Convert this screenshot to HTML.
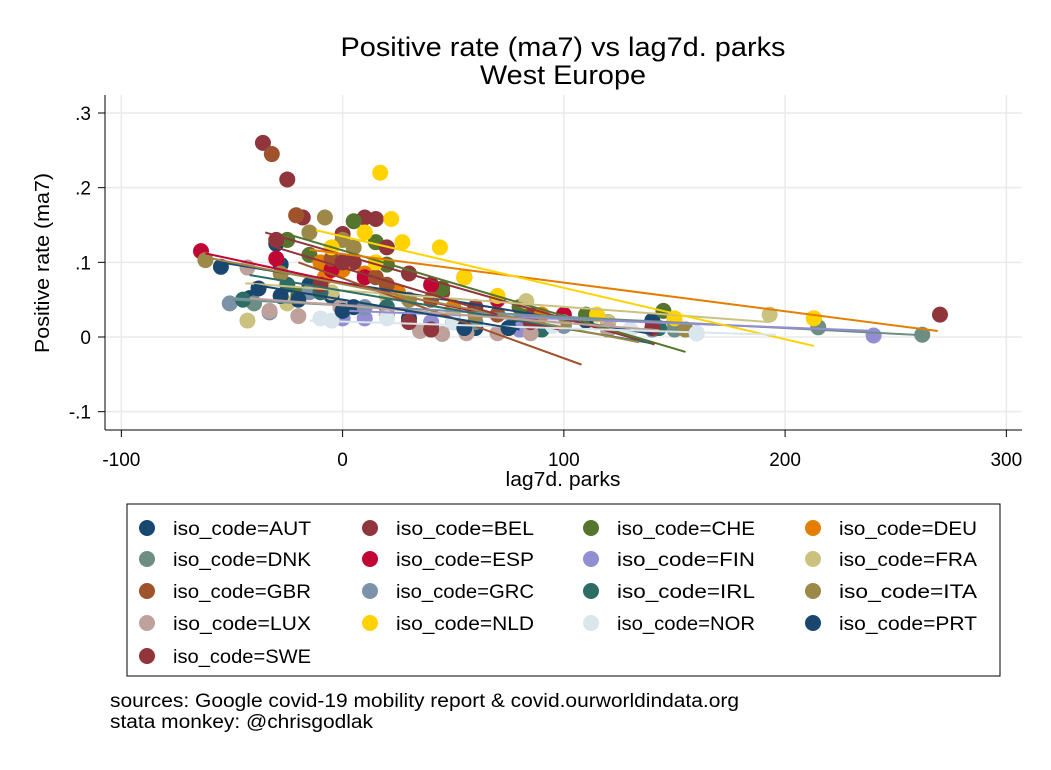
<!DOCTYPE html>
<html><head><meta charset="utf-8"><style>
body{margin:0;background:#fff}
svg text{font-family:"Liberation Sans",Arial,sans-serif;fill:#000}
</style></head><body>
<svg id="c" width="1051" height="765" xmlns="http://www.w3.org/2000/svg">
<rect width="1051" height="765" fill="#fff"/>
<text x="563" y="56" font-size="27" text-anchor="middle" textLength="445" lengthAdjust="spacingAndGlyphs">Positive rate (ma7) vs lag7d. parks</text>
<text x="563" y="84" font-size="27" text-anchor="middle" textLength="166" lengthAdjust="spacingAndGlyphs">West Europe</text>
<g id="grid"></g>
<g id="axes"></g>
<g id="marks"></g>
<g id="legend"></g>
<text x="110" y="707" font-size="19" textLength="629" lengthAdjust="spacingAndGlyphs">sources: Google covid-19 mobility report &amp; covid.ourworldindata.org</text>
<text x="110" y="728" font-size="19" textLength="263" lengthAdjust="spacingAndGlyphs">stata monkey: @chrisgodlak</text>
</svg>
<script>
const countries=["AUT","BEL","CHE","DEU","DNK","ESP","FIN","FRA","GBR","GRC","IRL","ITA","LUX","NLD","NOR","PRT","SWE"];
const colors=["#1a476f","#90353b","#55752f","#e37e00","#6e8e84","#c10534","#938dd2","#cac27e","#a0522d","#7b92a8","#2d6d66","#9c8847","#bfa19c","#ffd200","#d9e6eb","#1a476f","#90353b"];
const xTicks=[-100,0,100,200,300];
const yTicks=[-0.1,0,0.1,0.2,0.3];
const yTickLabels=["-.1","0",".1",".2",".3"];
const points={
AUT:[[-55,.094],[-42,.052],[-30,.125],[-28,.097],[-15,.07],[-5,.055],[5,.04],[20,.03],[40,.015],[60,.012],[80,.02],[110,.022],[140,.022]],
BEL:[[-36,.26],[-25,.211],[-18,.16],[0,.138],[5,.1],[10,.16],[15,.158],[30,.085],[45,.06],[60,.04],[85,.03],[120,.02],[270,.03]],
CHE:[[-25,.13],[-15,.11],[-20,.057],[5,.155],[15,.127],[20,.097],[45,.065],[80,.04],[110,.03],[145,.035]],
DEU:[[-10,.1],[-8,.08],[0,.09],[10,.085],[25,.06],[50,.04],[90,.03],[150,.02],[213,.025]],
DNK:[[-40,.045],[-10,.06],[20,.04],[60,.02],[100,.015],[150,.01],[215,.013],[262,.003]],
ESP:[[-64,.115],[-30,.105],[-5,.09],[10,.08],[40,.07],[55,.08],[70,.05],[100,.03],[120,.02]],
FIN:[[0,.025],[10,.025],[40,.02],[80,.01],[120,.01],[160,.005],[240,.002]],
FRA:[[-43,.022],[-25,.045],[-5,.06],[20,.055],[50,.03],[83,.048],[120,.02],[193,.03]],
GBR:[[-32,.245],[-21,.163],[-5,.105],[15,.08],[20,.07],[40,.05],[70,.03],[100,.02],[120,.01]],
GRC:[[-51,.045],[-33,.033],[-15,.06],[10,.04],[50,.02],[100,.015],[140,.01]],
IRL:[[-45,.05],[-25,.07],[-10,.06],[20,.04],[50,.02],[90,.01],[143,.012]],
ITA:[[-62,.103],[-8,.16],[-28,.085],[-15,.14],[0,.13],[5,.12],[30,.05],[60,.03],[100,.02],[155,.01]],
LUX:[[-43,.093],[-33,.035],[-20,.028],[-1,.04],[20,.03],[35,.008],[45,.004],[56,.005],[70,.005],[85,.005],[120,.01]],
NLD:[[17,.22],[22,.158],[27,.127],[44,.12],[-5,.12],[10,.14],[15,.1],[55,.08],[70,.055],[115,.03],[150,.025],[213,.025]],
NOR:[[-10,.025],[-5,.022],[20,.025],[50,.02],[95,.015],[130,.01],[160,.005]],
PRT:[[-38,.065],[-28,.055],[-20,.05],[0,.035],[30,.025],[55,.012],[75,.012]],
SWE:[[-30,.13],[-10,.07],[0,.1],[20,.12],[30,.02],[40,.01],[85,.02],[140,.012]]
};
const fitLines={
AUT:[-55,.1,140,.004],BEL:[-35,.14,141,-.01],CHE:[-24,.137,155,-.02],DEU:[-15,.117,269,.008],
DNK:[-50,.05,265,.002],ESP:[-62,.112,98,.01],FIN:[3,.035,242,.008],FRA:[-44,.072,193,.02],
GBR:[-20,.1,108,-.037],GRC:[-51,.052,116,.023],IRL:[-42,.083,139,-.008],ITA:[-64,.108,134,-.007],
LUX:[-42,.052,143,.009],NLD:[-12,.143,213,-.012],NOR:[-15,.022,196,.003],PRT:[-40,.07,80,.01],SWE:[-30,.12,70,.03]
};
const NS="http://www.w3.org/2000/svg";
const X=v=>342.6+v*2.2125, Y=v=>337-v*746.7;
function mk(tag,attrs,parent){const e=document.createElementNS(NS,tag);for(const k in attrs)e.setAttribute(k,attrs[k]);parent.appendChild(e);return e;}
const grid=document.getElementById('grid'),axes=document.getElementById('axes'),marks=document.getElementById('marks'),leg=document.getElementById('legend');
xTicks.forEach(t=>{
 const g=mk('line',{x1:X(t),x2:X(t),y1:95,y2:430,stroke:'#eaeaea','stroke-width':1.5},grid);
 
 
 mk('line',{x1:X(t),x2:X(t),y1:430,y2:437,stroke:'#000','stroke-width':1},axes);
 const tx=mk('text',{x:X(t),y:466,'font-size':19,'text-anchor':'middle'},axes);tx.textContent=t;
 
 
});
yTicks.forEach((t,i)=>{
 const g=mk('line',{x1:105,x2:1022,y1:Y(t),y2:Y(t),stroke:'#eaeaea','stroke-width':1.5},grid);
 
 
 mk('line',{x1:98,x2:105,y1:Y(t),y2:Y(t),stroke:'#000','stroke-width':1},axes);
 const tx=mk('text',{x:91,y:Y(t)+7,'font-size':19,'text-anchor':'end'},axes);tx.textContent=yTickLabels[i];
 
 
});
mk('line',{x1:105,x2:1022,y1:430,y2:430,stroke:'#000','stroke-width':1},axes);
mk('line',{x1:105,x2:105,y1:95,y2:430,stroke:'#000','stroke-width':1},axes);
const xt=mk('text',{x:563,y:486,'font-size':20,'text-anchor':'middle',textLength:115,lengthAdjust:'spacingAndGlyphs'},axes);xt.textContent='lag7d. parks';


const yt=mk('text',{x:0,y:0,'font-size':20,'text-anchor':'middle',textLength:180,lengthAdjust:'spacingAndGlyphs',transform:'translate(49,263) rotate(-90)'},axes);yt.textContent='Positive rate (ma7)';


countries.forEach((c,i)=>{
 points[c].forEach(p=>{
  const d=mk('circle',{cx:X(p[0]),cy:Y(p[1]),r:8,fill:colors[i]},marks);
  
  
 });
});
countries.forEach((c,i)=>{
 const f=fitLines[c];
 const l=mk('line',{x1:X(f[0]),y1:Y(f[1]),x2:X(f[2]),y2:Y(f[3]),stroke:colors[i],'stroke-width':2},marks);
 
 
});
const box=mk('rect',{x:127,y:504,width:873,height:172,fill:'#fff',stroke:'#000','stroke-width':1},leg);


const colX=[147,370,591,813],rowY=[528,559,591,623,656];
countries.forEach((c,i)=>{
 const cx=colX[i%4],cy=rowY[Math.floor(i/4)];
 const g=mk('g',{},leg);
 
 
 mk('circle',{cx:cx,cy:cy,r:8,fill:colors[i]},g);
 const t=mk('text',{x:cx+26,y:cy+7,'font-size':19,textLength:138,lengthAdjust:'spacingAndGlyphs'},g);t.textContent='iso_code='+c;
});
</script>
</body></html>
